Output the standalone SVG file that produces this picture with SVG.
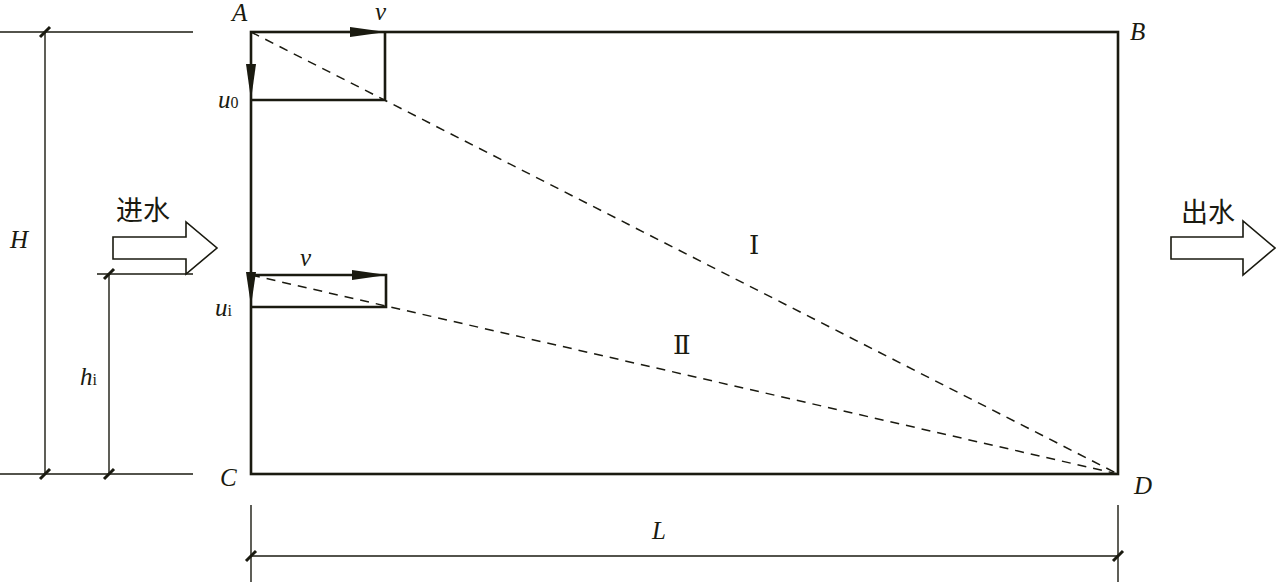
<svg xmlns="http://www.w3.org/2000/svg" width="1276" height="582" viewBox="0 0 1276 582">
<style>
.thick{stroke:#1a1a10;stroke-width:2.6;fill:none}
.thin{stroke:#1a1a10;stroke-width:1.4;fill:none}
.dash{stroke:#1a1a10;stroke-width:1.5;fill:none;stroke-dasharray:9,7}
.tick{stroke:#1a1a10;stroke-width:3;fill:none}
.ah{fill:#1a1a10;stroke:none}
.lbl{font-family:"Liberation Serif",serif;font-style:italic;font-size:25px;fill:#1a1a10}
.sub{font-family:"Liberation Serif",serif;font-style:normal;font-size:16px;fill:#1a1a10}
.rom{font-family:"DejaVu Serif","Liberation Serif",serif;font-size:26px;fill:#1a1a10}
.cjk{font-family:"Liberation Serif","Noto Sans CJK SC",serif;font-size:27px;fill:#1a1a10}
.harrow{fill:#fff;stroke:#1a1a10;stroke-width:1.6}
</style>
<g id="tank">
<rect class="thick" x="251" y="32" width="867" height="442"/>
</g>
<g id="connectors">
<line class="dash" x1="251" y1="32" x2="1118" y2="474"/>
<line class="dash" x1="251" y1="275" x2="1118" y2="474"/>
<polyline class="thick" points="251,100 385,100 385,32"/>
<polygon class="ah" points="350,27 386,32 350,37"/>
<polygon class="ah" points="246,64 251,100 256,64"/>
<polyline class="thick" points="251,275 386,275 386,307 251,307"/>
<polygon class="ah" points="352,270 387,275 352,280"/>
<polygon class="ah" points="246,272 251,306 256,272"/>
</g>
<g id="dimensions">
<line class="thin" x1="0" y1="32" x2="193" y2="32"/>
<line class="thin" x1="0" y1="474" x2="193" y2="474"/>
<line class="thin" x1="45" y1="32" x2="45" y2="474"/>
<line class="thin" x1="97" y1="274" x2="193" y2="274"/>
<line class="thin" x1="109" y1="274" x2="109" y2="474"/>
<line class="thin" x1="251" y1="505" x2="251" y2="582"/>
<line class="thin" x1="1118" y1="505" x2="1118" y2="582"/>
<line class="thin" x1="251" y1="556" x2="1118" y2="556"/>
<line class="tick" x1="40" y1="37" x2="50" y2="27"/>
<line class="tick" x1="40" y1="479" x2="50" y2="469"/>
<line class="tick" x1="104" y1="279" x2="114" y2="269"/>
<line class="tick" x1="104" y1="479" x2="114" y2="469"/>
<line class="tick" x1="246" y1="561" x2="256" y2="551"/>
<line class="tick" x1="1113" y1="561" x2="1123" y2="551"/>
</g>
<g id="inlet">
<polygon class="harrow" points="113,237 186,237 186,222 217,248 186,274 186,259 113,259"/>
<text class="cjk" x="116" y="220">进水</text>
</g>
<g id="outlet">
<polygon class="harrow" points="1171,237 1243,237 1243,221 1275,248 1243,275 1243,259 1171,259"/>
<text class="cjk" x="1181" y="222">出水</text>
</g>
<g id="labels">
<text class="lbl" x="232" y="21">A</text>
<text class="lbl" x="1130" y="40">B</text>
<text class="lbl" x="220" y="486">C</text>
<text class="lbl" x="1134" y="494">D</text>
<text class="lbl" x="375" y="20">v</text>
<text class="lbl" x="300" y="266">v</text>
<text class="lbl" x="218" y="108">u<tspan class="sub">0</tspan></text>
<text class="lbl" x="215" y="316">u<tspan class="sub">i</tspan></text>
<text class="lbl" x="10" y="248">H</text>
<text class="lbl" x="80" y="385">h<tspan class="sub">i</tspan></text>
<text class="lbl" x="652" y="539">L</text>
<text class="rom" x="749" y="254">Ⅰ</text>
<text class="rom" x="673" y="354">Ⅱ</text>
</g>
</svg>
